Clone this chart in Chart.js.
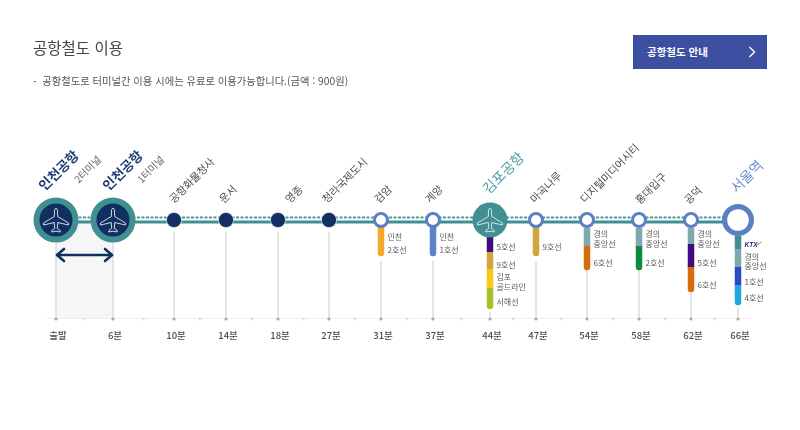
<!DOCTYPE html>
<html lang="ko">
<head>
<meta charset="utf-8">
<script src="https://cdn.jsdelivr.net/npm/chart.js@4"></script>
<style>
html,body{margin:0;padding:0;background:#fff;overflow:hidden}
body{width:800px;height:430px;position:relative;font-family:"Noto Sans CJK KR","Noto Sans",sans-serif}
canvas{position:absolute;left:0;top:0}
.t{position:absolute;white-space:nowrap}
#title{left:33px;top:36px;font-size:15.5px;line-height:22px;color:#444}
#note{left:33px;top:74px;font-size:10.3px;line-height:14px;color:#555}
#btn{left:633px;top:35px;width:134px;height:34px;background:#3d4fa1;color:#fff;font-size:10.5px;font-weight:700;line-height:34px;text-indent:14px}
#btn svg{position:absolute;left:115px;top:11px}
</style>
</head>
<body>
<canvas id="c" width="800" height="430"></canvas>
<div class="t" id="title">공항철도 이용</div>
<div class="t" id="note">-&nbsp; 공항철도로 터미널간 이용 시에는 유료로 이용가능합니다.(금액 : 900원)</div>
<div class="t" id="btn">공항철도 안내<svg width="8" height="12" viewBox="0 0 8 12"><path d="M1.5 1L6.5 6L1.5 11" fill="none" stroke="#fff" stroke-width="1.4"/></svg></div>
<script>
// ---- data ----
const stationNames = ['인천공항','인천공항','공항화물청사','운서','영종','청라국제도시','검암','계양','김포공항','마곡나루','디지털미디어시티','홍대입구','공덕','서울역'];
const stationNotes = ['2터미널','1터미널','','','','','','','','','','','',''];
const timeLabels = ['출발','6분','10분','14분','18분','27분','31분','37분','44분','47분','54분','58분','62분','66분'];
// schematic distance along the line, as drawn
const trackPosition = [0,57,118,170,222,273,325,377,434,480,531,583,635,682];
const stationKind = ['airport','airport','plain','plain','plain','plain','ring','ring','gimpo','ring','ring','ring','ring','seoul'];
// schematic depth below the line at which each connecting line starts / ends
const dropStart = [23,23,12,12,12,12,41,41,92,41,49,49,73,88];
// connecting lines: station index, line name, depth of its end
const transferStation = [6,7,8,8,8,8,9,10,10,11,11,12,12,12,13,13,13,13];
const transferLine = ['인천 2호선','인천 1호선','5호선','9호선','김포골드라인','서해선','9호선','경의중앙선','6호선','경의중앙선','2호선','경의중앙선','5호선','6호선','KTX','경의중앙선','1호선','4호선'];
const transferEnd = [33,33,32,49,68,86,33,26,47,26,47,24,47,69,29,47,65,82];

// ---- styles / layout ----
const lineColor = {'인천 2호선':'#f5a72b','인천 1호선':'#5b82c4','5호선':'#3f0d80','9호선':'#d3a53f','김포골드라인':'#fcc71a','서해선':'#a9bf2c','경의중앙선':'#7da8ae','6호선':'#d96d0b','2호선':'#0c8a3d','KTX':'#3f8f93','1호선':'#2a4cc6','4호선':'#1fa5df'};
const transferStartDepth = 8, seoulStartDepth = 16, gimpoStartDepth = 17;
const teal='#3f8f93', navy='#12305f', ring='#5b7fc4';
const F='"Noto Sans CJK KR","Noto Sans",sans-serif';
// label anchors relative to the station, in pixels (bottom-left end of rotated text)
const nameOffset = [[-15,-32],[-8,-32],[-3,-19],[-5,-19],[9,-19],[-5,-19],[-5,-19],[-6,-19],[-5,-29],[-4,-19],[-5,-19],[-2,-18],[-5,-18],[-5,-30]];
const noteOffset = [[20,-39],[26,-39]];
// transfer text rows: station index, text, depth of text centre
const tagStation=[6,6,7,7,8,8,8,8,8,9,10,10,10,11,11,11,12,12,12,12,13,13,13,13];
const tagText=['인천','2호선','인천','1호선','5호선','9호선','김포','골드라인','서해선','9호선','경의','중앙선','6호선','경의','중앙선','2호선','경의','중앙선','5호선','6호선','경의','중앙선','1호선','4호선'];
const tagDepth=[17,30,17,30,27,45,57,67,82,27,14,24,43,14,24,43,14,24,43,65,37,46,62,78];

const xy=(x,y)=>({x,y});
const datasets=[];
// shaded terminal-to-terminal band
datasets.push({data:[xy(trackPosition[0],0),xy(trackPosition[1],0)],borderWidth:0,pointRadius:0,fill:'start',backgroundColor:'#f6f6f6',order:9});
// faint base line under the stations
datasets.push({data:[xy(-10,98.5),xy(696,98.5)],borderColor:'#f0f0f0',borderWidth:1,pointRadius:0,order:8});
// vertical drop lines
trackPosition.forEach((x,i)=>datasets.push({data:[xy(x,dropStart[i]),xy(x,99)],borderColor:'#e0e0e0',borderWidth:1,pointRadius:0,order:8}));
// axis dots and little direction marks
datasets.push({data:trackPosition.map(x=>xy(x,99)),showLine:false,pointRadius:1.6,pointBackgroundColor:'#aaaaaa',pointBorderWidth:0,order:7,clip:false});
datasets.push({data:trackPosition.slice(1).map((x,i)=>xy((x+trackPosition[i])/2,99)),showLine:false,pointStyle:'triangle',rotation:90,pointRadius:2,pointBackgroundColor:'#dcdcdc',pointBorderWidth:0,order:7,clip:false});
// main track
const ends=[trackPosition[0],trackPosition[trackPosition.length-1]];
datasets.push({data:ends.map(x=>xy(x,2)),borderColor:teal,borderWidth:3,pointRadius:0,order:6});
datasets.push({data:ends.map(x=>xy(x,-2.5)),borderColor:'#4f979b',borderWidth:2,borderDash:[3,1.5],pointRadius:0,order:6});
// connecting lines
transferStation.forEach((s,i)=>{
  const first=i===0||transferStation[i-1]!==s;
  const last=i===transferStation.length-1||transferStation[i+1]!==s;
  const kind=stationKind[s];
  const start=first?(kind==='seoul'?seoulStartDepth:kind==='gimpo'?gimpoStartDepth:transferStartDepth):transferEnd[i-1];
  datasets.push({data:[xy(trackPosition[s],start),xy(trackPosition[s],transferEnd[i])],borderColor:lineColor[transferLine[i]],borderWidth:6.5,borderCapStyle:last?'round':'butt',pointRadius:0,order:last?5:4});
});
// stations
const pts=k=>trackPosition.filter((x,i)=>stationKind[i]===k).map(x=>xy(x,0));
datasets.push({data:pts('airport'),showLine:false,pointRadius:19.5,pointBackgroundColor:navy,pointBorderColor:teal,pointBorderWidth:6,order:1});
datasets.push({data:pts('gimpo'),showLine:false,pointRadius:17.5,pointBackgroundColor:teal,pointBorderWidth:0,order:1});
datasets.push({data:pts('plain'),showLine:false,pointRadius:7.6,pointBackgroundColor:navy,pointBorderColor:'#dfe4ec',pointBorderWidth:0.8,order:1});
datasets.push({data:pts('ring'),showLine:false,pointRadius:6.5,pointBackgroundColor:'#fff',pointBorderColor:ring,pointBorderWidth:3,order:1});
datasets.push({data:pts('seoul'),showLine:false,pointRadius:13.4,pointBackgroundColor:'#fff',pointBorderColor:ring,pointBorderWidth:5.2,order:1});
// double arrow between the terminals
const arrow=[[[1,35],[56,35]],[[8,29],[1,35],[8,41]],[[49,29],[56,35],[49,41]]];
arrow.forEach(a=>datasets.push({data:a.map(p=>xy(p[0],p[1])),borderColor:navy,borderWidth:2.6,borderCapStyle:'round',borderJoinStyle:'round',pointRadius:0,order:3}));

function plane(ctx,x,y){
  ctx.save();ctx.translate(x,y);ctx.strokeStyle='#e4edef';ctx.lineWidth=.9;ctx.lineJoin='round';
  const half=[[0,-12],[1.4,-10.5],[1.7,-3.5],[12.5,3],[12.5,5],[1.7,2.5],[1.3,8.5],[4.2,10.5],[4.2,12]];
  ctx.beginPath();ctx.moveTo(0,-12);
  half.slice(1).forEach(p=>ctx.lineTo(p[0],p[1]));
  ctx.lineTo(0,11.2);
  half.slice(1).reverse().forEach(p=>ctx.lineTo(-p[0],p[1]));
  ctx.closePath();ctx.stroke();ctx.restore();
}
const drawings={id:'drawings',afterDatasetsDraw(chart){
  const {ctx,scales:{x:X,y:Y}}=chart;
  const y0=Y.getPixelForValue(0);
  trackPosition.forEach((p,i)=>{
    const k=stationKind[i],px=X.getPixelForValue(p);
    if(k==='airport'||k==='gimpo')plane(ctx,px,y0);
    let color='#4d4d4d',font='10.6px '+F;
    if(k==='airport'){color='#1f3e72';font='700 13.5px '+F;}
    if(k==='gimpo'){color='#4c9aa0';font='14px '+F;}
    if(k==='seoul'){color='#6a8fd0';font='14px '+F;}
    ctx.save();ctx.translate(px+nameOffset[i][0],y0+nameOffset[i][1]);ctx.rotate(-Math.PI/4);
    ctx.font=font;ctx.fillStyle=color;ctx.textAlign='left';ctx.textBaseline='middle';
    ctx.fillText(stationNames[i],0,0);ctx.restore();
    if(stationNotes[i]){
      ctx.save();ctx.translate(px+noteOffset[i][0],y0+noteOffset[i][1]);ctx.rotate(-Math.PI/4);
      ctx.font='10px '+F;ctx.fillStyle='#666';ctx.textAlign='left';ctx.textBaseline='middle';
      ctx.fillText(stationNotes[i],0,0);ctx.restore();
    }
  });
  ctx.save();ctx.font='8px '+F;ctx.fillStyle='#5a5a5a';ctx.textAlign='left';ctx.textBaseline='middle';
  tagText.forEach((t,i)=>{ctx.fillText(t,X.getPixelForValue(trackPosition[tagStation[i]])+6.5,Y.getPixelForValue(tagDepth[i]));});
  // KTX mark
  const kx=X.getPixelForValue(trackPosition[13])+6.5,ky=Y.getPixelForValue(25);
  ctx.font='italic 800 6.5px "Liberation Sans",sans-serif';ctx.fillStyle='#1b2f8a';ctx.fillText('KTX',kx,ky);
  ctx.strokeStyle='#d3413a';ctx.lineWidth=.8;ctx.beginPath();ctx.moveTo(kx+11,ky+1);ctx.lineTo(kx+17,ky-3);ctx.stroke();
  ctx.restore();
}};

new Chart(document.getElementById('c'),{
  type:'line',
  data:{datasets},
  plugins:[drawings],
  options:{
    responsive:false,animation:false,events:[],
    layout:{padding:0,autoPadding:false},
    plugins:{legend:{display:false},tooltip:{enabled:false},title:{display:false}},
    scales:{
      x:{type:'linear',min:-56,max:744,
        grid:{display:false,drawTicks:false},
        border:{display:false},
        afterBuildTicks(s){s.ticks=trackPosition.map(v=>({value:v}));},
        afterFit(s){s.height=111;},
        ticks:{autoSkip:false,maxRotation:0,minRotation:0,padding:11,labelOffset:2,color:'#4d4d4d',font:{size:9.5,family:F,weight:'500'},
          callback(v){const i=trackPosition.indexOf(v);return i>=0?timeLabels[i]:'';}}
      },
      y:{type:'linear',display:false,reverse:true,min:-220,max:99}
    }
  }
});
</script>
</body>
</html>
